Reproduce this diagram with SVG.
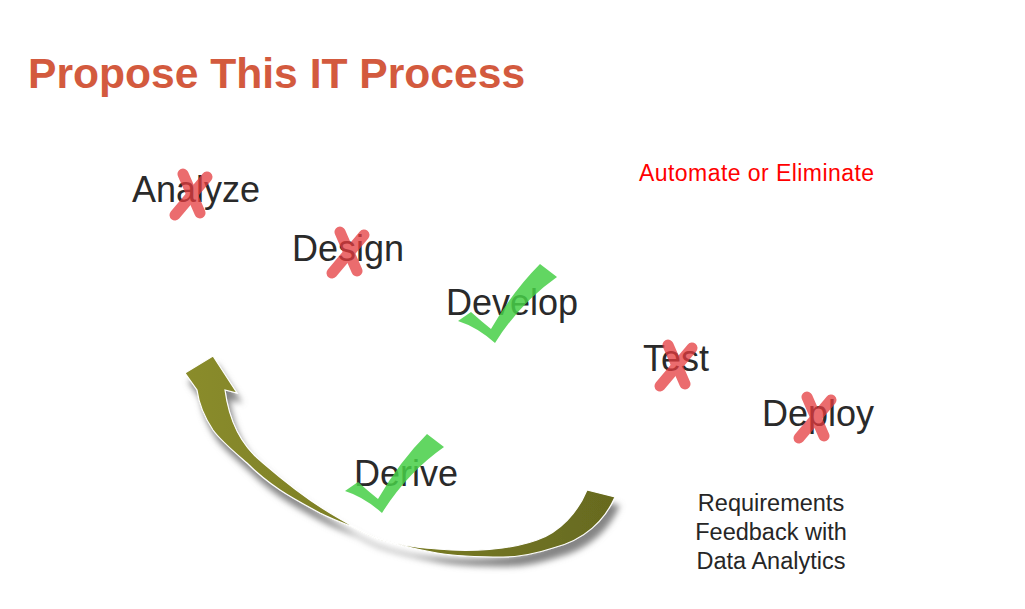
<svg xmlns="http://www.w3.org/2000/svg" xmlns:xlink="http://www.w3.org/1999/xlink" width="1025" height="609" viewBox="0 0 1025 609">
  <style>
    .title { font-family: "Liberation Sans", Arial, sans-serif; font-weight: bold; font-size: 42.6px; fill: #D35A3E; }
    .label { font-family: "Liberation Sans", Arial, sans-serif; font-size: 36px; fill: #2A2A2A; }
    .red { font-family: "Liberation Sans", Arial, sans-serif; font-size: 23px; fill: #FF0000; }
    .note { font-family: "Liberation Sans", Arial, sans-serif; font-size: 23.5px; fill: #262626; text-anchor: middle; }
    .xmark { stroke: #E53B3E; stroke-width: 11; stroke-linecap: round; fill: none; }
    .check { fill: #47CF47; }
  </style>
  <defs>
    <g id="xm" opacity="0.75">
      <line class="xmark" x1="-16" y1="20" x2="16" y2="-18"/>
      <line class="xmark" x1="-8" y1="-21" x2="9" y2="18"/>
    </g>
    <path id="ck" class="check" opacity="0.85" d="M -37,-22 L -24,-31 Q -14,-22 -4,-14 Q 18,-52 45,-79 L 62,-66 Q 25,-40 0,0 Q -18,-16 -37,-22 Z"/>
    <linearGradient id="arrowGrad" x1="0" y1="0" x2="1" y2="0">
      <stop offset="0" stop-color="#8A8C2B"/>
      <stop offset="1" stop-color="#676A1F"/>
    </linearGradient>
    <filter id="shadow" x="-20%" y="-20%" width="140%" height="150%">
      <feGaussianBlur in="SourceAlpha" stdDeviation="3"/>
      <feOffset dx="4" dy="9" result="b"/>
      <feFlood flood-color="#858585"/>
      <feComposite in2="b" operator="in" result="s"/>
      <feMerge>
        <feMergeNode in="s"/>
        <feMergeNode in="SourceGraphic"/>
      </feMerge>
    </filter>
  </defs>

  <rect width="1025" height="609" fill="#FFFFFF"/>

  <text class="title" x="28" y="88">Propose This IT Process</text>

  <g id="connectors">
    <path filter="url(#shadow)" fill="url(#arrowGrad)" stroke="#FFFFFF" stroke-width="1.2"
      d="M 213,356 L 237,393 L 225,390 C 229,420 240,445 263,463 C 285,482 305,498 330,513 C 345,522 360,531 375,537 C 395,544 415,548 437,549 C 470,552 510,550 537,540 C 560,532 578,512 587,490 L 615,497 C 605,520 585,540 553,548 C 535,554 520,557 503,557 C 480,557 455,556 437,553 C 415,549 393,544 375,538 C 366,534 360,531 353,527 C 340,522 330,518 320,513 C 305,505 292,498 280,490 C 268,482 257,473 247,463 C 232,450 220,440 213,430 C 205,418 199,405 197,390 L 185,373 Z"/>
  </g>

  <g id="node-analyze">
    <text class="label" x="132" y="202">Analyze</text>
    <use xlink:href="#xm" href="#xm" transform="translate(191,195)"/>
  </g>
  <g id="node-design">
    <text class="label" x="292" y="261">Design</text>
    <use xlink:href="#xm" href="#xm" transform="translate(348,253)"/>
  </g>
  <g id="node-develop">
    <text class="label" x="446" y="315">Develop</text>
    <use xlink:href="#ck" href="#ck" transform="translate(495,343)"/>
  </g>
  <g id="node-test">
    <text class="label" x="643" y="371">Test</text>
    <use xlink:href="#xm" href="#xm" transform="translate(676,366)"/>
  </g>
  <g id="node-deploy">
    <text class="label" x="762" y="426">Deploy</text>
    <use xlink:href="#xm" href="#xm" transform="translate(815,418)"/>
  </g>
  <g id="node-derive">
    <text class="label" x="354" y="486">Derive</text>
    <use xlink:href="#ck" href="#ck" transform="translate(382,513)"/>
  </g>

  <g id="note-automate">
    <text class="red" x="639" y="181" textLength="235">Automate or Eliminate</text>
  </g>
  <g id="note-feedback">
    <text class="note" x="771" y="511">Requirements</text>
    <text class="note" x="771" y="540">Feedback with</text>
    <text class="note" x="771" y="569">Data Analytics</text>
  </g>
</svg>
